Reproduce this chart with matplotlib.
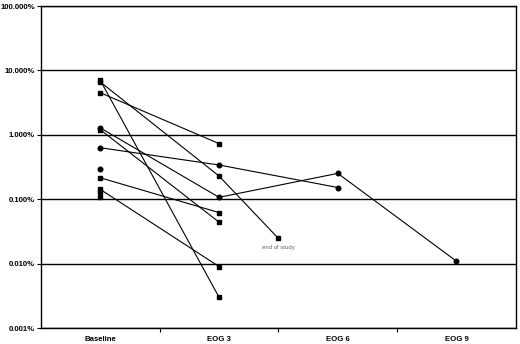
import numpy as np
import matplotlib.pyplot as plt
from matplotlib.ticker import FuncFormatter, FixedLocator

plt.rcParams['font.family'] = ['Liberation Sans', 'DejaVu Sans']

categories = ['Baseline', 'EOG 3', 'EOG 6', 'EOG 9']
# x positions: 0..3 are the visits, 1.5 is the "end of study" point
positions = [0, 1, 1.5, 2, 3]

# values in percent, NaN = no measurement
s1 = [7.0, 0.003, np.nan, np.nan, np.nan]
s2 = [6.6, 0.229, 0.0246, np.nan, np.nan]
s3 = [4.5, 0.73, np.nan, np.nan, np.nan]
s4 = [1.28, 0.107, np.nan, 0.252, 0.0109]
s5 = [1.2, 0.044, np.nan, np.nan, np.nan]
s6 = [0.63, 0.34, np.nan, 0.152, np.nan]
s7 = [0.29, np.nan, np.nan, np.nan, np.nan]
s8 = [0.215, 0.062, np.nan, np.nan, np.nan]
s9 = [0.142, 0.009, np.nan, np.nan, np.nan]
s10 = [0.13, np.nan, np.nan, np.nan, np.nan]
s11 = [0.107, np.nan, np.nan, np.nan, np.nan]

series = [s1, s2, s3, s4, s5, s6, s7, s8, s9, s10, s11]
markers = ['s', 's', 's', 'o', 's', 'o', 'o', 's', 's', 's', 's']

fig = plt.figure(figsize=(5.2, 3.44), dpi=100)
ax = fig.add_axes([0.0788, 0.0465, 0.9132, 0.936])

x = np.array(positions)
for vals, m in zip(series, markers):
    v = np.array(vals, dtype=float)
    ok = ~np.isnan(v)
    ax.plot(x[ok], v[ok], color='black', lw=0.8, marker=m, ms=3.3,
            mfc='black', mec='black', zorder=3)

ax.text(1.5, 0.0246 * 0.78, 'end of study', fontsize=4.3, color='#666666',
        ha='center', va='top')

ax.set_yscale('log')
ax.set_ylim(0.001, 100)
ax.yaxis.set_major_locator(FixedLocator([0.001, 0.01, 0.1, 1, 10, 100]))
ax.yaxis.set_minor_locator(FixedLocator([]))
ax.yaxis.set_major_formatter(FuncFormatter(lambda v, p: '%.3f%%' % v))
ax.grid(axis='y', color='black', lw=1.0)

ax.set_xlim(-0.5, 3.5)
ax.set_xticks(range(len(categories)))
ax.set_xticklabels(categories)
ax.set_xticks([0.5, 1.5, 2.5], minor=True)
ax.tick_params(axis='x', which='major', length=0, pad=6)
ax.tick_params(axis='x', which='minor', length=3, width=0.8)
ax.tick_params(axis='y', length=3, width=0.8, pad=1.5)
for lab in ax.get_xticklabels() + ax.get_yticklabels():
    lab.set_fontsize(5.6)
    lab.set_fontweight('bold')

for sp in ax.spines.values():
    sp.set_color('black')
    sp.set_linewidth(1.0)

fig.savefig('out.png', dpi=100)
